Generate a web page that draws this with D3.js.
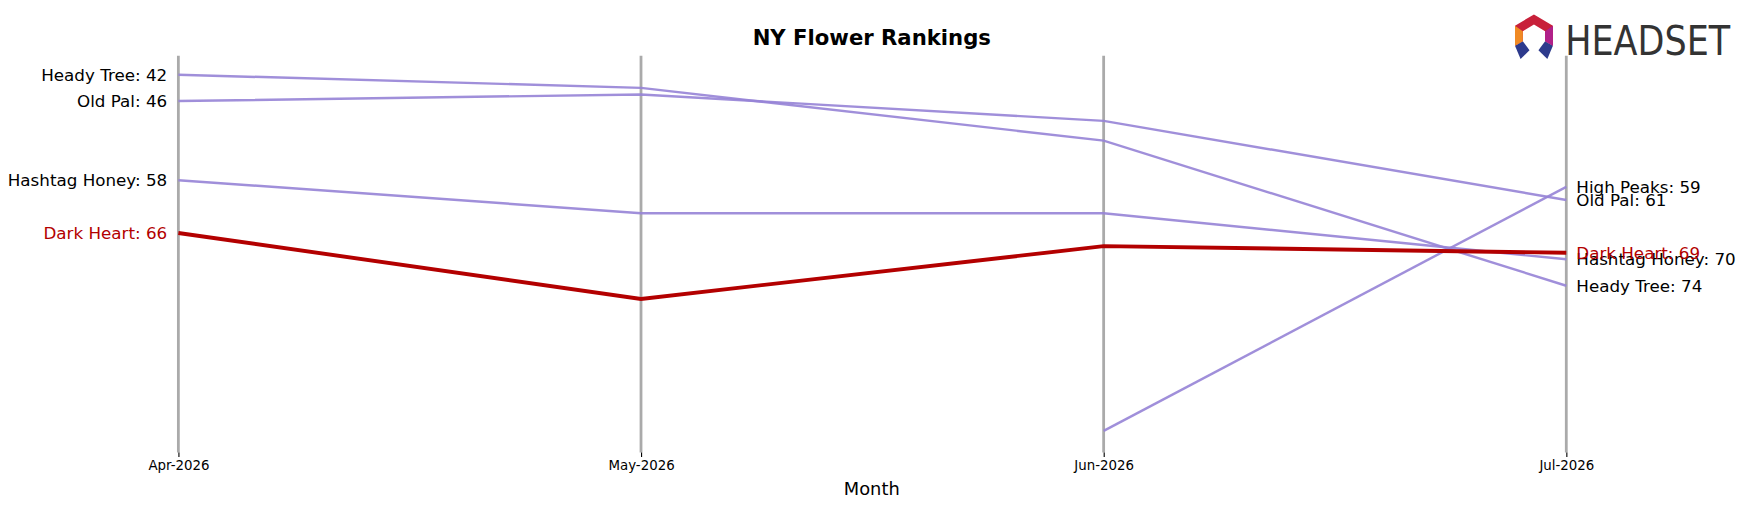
<!DOCTYPE html><html><head><meta charset="utf-8">
<script src="https://cdn.jsdelivr.net/npm/d3@7"></script>
<style>body{margin:0;background:#fff}text{font-family:"DejaVu Sans",sans-serif}</style></head><body>
<svg id="c" width="1748" height="507"></svg>
<script>
const months=["Apr-2026","May-2026","Jun-2026","Jul-2026"];
const brands=["Heady Tree","Old Pal","Hashtag Honey","Dark Heart","High Peaks"];
const ranks={
 "Heady Tree":[42,44,52,74],
 "Old Pal":[46,45,49,61],
 "Hashtag Honey":[58,63,63,70],
 "Dark Heart":[66,76,68,69],
 "High Peaks":[null,null,96,59]
};
const highlight="Dark Heart";
const svg=d3.select("#c").append("g").attr("transform",`scale(${1748/1568})`);
const x=d3.scalePoint().domain(months).range([160,1405]);
const y=d3.scaleLinear().domain([42,74]).range([67,256.3]);
months.forEach(m=>svg.append("line").attr("x1",x(m)).attr("x2",x(m)).attr("y1",50).attr("y2",406).attr("stroke","#aaa").attr("stroke-width",2.5));
const ax=svg.append("g").attr("transform","translate(0,406)").call(d3.axisBottom(x).tickSize(4));
ax.select(".domain").remove();ax.selectAll("text").attr("font-size",12).attr("fill","#000").attr("font-family","DejaVu Sans");
const line=d3.line().defined(d=>d.r!=null).x(d=>x(d.m)).y(d=>y(d.r));
const order=brands.filter(b=>b!==highlight).concat([highlight]);
order.forEach(b=>{
 const pts=months.map((m,i)=>({m,r:ranks[b][i]}));
 const hl=b===highlight;
 svg.append("path").datum(pts).attr("d",line).attr("fill","none")
  .attr("stroke",hl?"#b30000":"#9683d6").attr("stroke-width",hl?3.5:2.2).attr("opacity",hl?1:0.9);
 const first=pts.find(d=>d.r!=null);
 if(first.m===months[0]) svg.append("text").attr("x",x(first.m)-10).attr("y",y(first.r)).attr("dy","0.35em").attr("text-anchor","end").attr("font-size",15).attr("fill",hl?"#b30000":"#000").text(`${b}: ${first.r}`);
 const last=pts[3];
 svg.append("text").attr("x",x(last.m)+9).attr("y",y(last.r)).attr("dy","0.35em").attr("font-size",15).attr("fill",hl?"#b30000":"#000").text(`${b}: ${last.r}`);
});
svg.append("text").attr("x",782).attr("y",40).attr("text-anchor","middle").attr("font-size",19).attr("font-weight","bold").text("NY Flower Rankings");
svg.append("text").attr("x",782).attr("y",444).attr("text-anchor","middle").attr("font-size",16).text("Month");
const lg=svg.append("g").attr("transform","translate(1376,33)");
lg.append("path").attr("d","M0,-20 L17,-10 L17,8 L10,4 L10,-5 L0,-11 L-10,-5 L-10,4 L-17,8 L-17,-10Z").attr("fill","#c8203a");
lg.append("path").attr("d","M-17,8 L-10,4 L-4,12 L-12,20Z").attr("fill","#2d3a8c");
lg.append("path").attr("d","M17,8 L10,4 L4,12 L12,20Z").attr("fill","#2d3a8c");
lg.append("path").attr("d","M-17,-10 L-10,-5 L-10,4 L-17,8Z").attr("fill","#f08a24");
lg.append("path").attr("d","M17,-10 L10,-5 L10,4 L17,8Z").attr("fill","#b0208a");
svg.append("text").attr("x",1404).attr("y",49).attr("font-size",37).attr("fill","#333").attr("textLength",148).attr("lengthAdjust","spacingAndGlyphs").text("HEADSET");
</script></body></html>
